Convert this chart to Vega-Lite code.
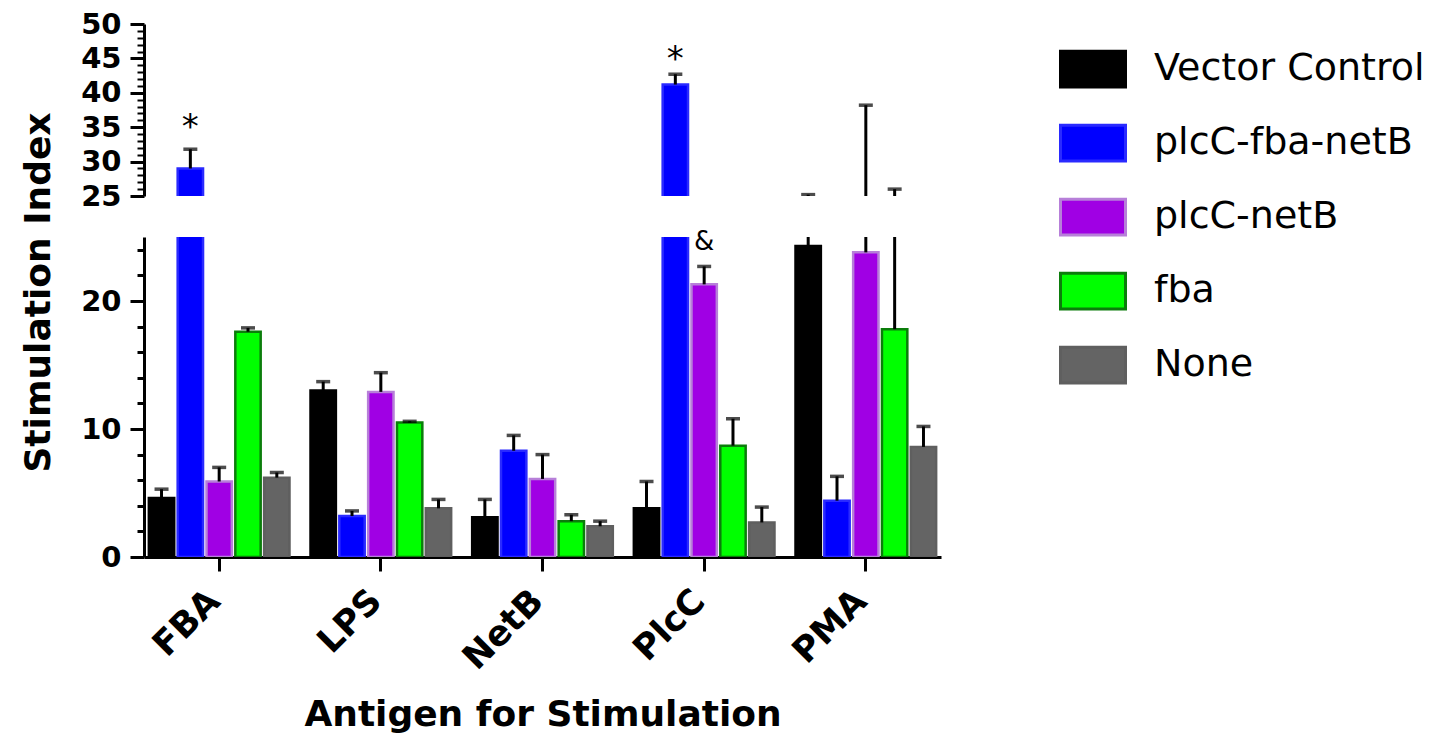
{
  "$schema": "https://vega.github.io/schema/vega-lite/v6.json",
  "padding": {"left": 20, "top": 10, "right": 5, "bottom": 5},
  "bounds": "flush",
  "spacing": 41,
  "datasets": {
    "bars": [
      {"antigen": "FBA", "group": "Vector Control", "value": 4.6, "upper": 5.3},
      {"antigen": "FBA", "group": "plcC-fba-netB", "value": 29.0, "upper": 31.8},
      {"antigen": "FBA", "group": "plcC-netB", "value": 5.9, "upper": 7.0},
      {"antigen": "FBA", "group": "fba", "value": 17.6, "upper": 17.9},
      {"antigen": "FBA", "group": "None", "value": 6.2, "upper": 6.6},
      {"antigen": "LPS", "group": "Vector Control", "value": 13.0, "upper": 13.7},
      {"antigen": "LPS", "group": "plcC-fba-netB", "value": 3.2, "upper": 3.6},
      {"antigen": "LPS", "group": "plcC-netB", "value": 12.9, "upper": 14.4},
      {"antigen": "LPS", "group": "fba", "value": 10.5, "upper": 10.6},
      {"antigen": "LPS", "group": "None", "value": 3.8, "upper": 4.5},
      {"antigen": "NetB", "group": "Vector Control", "value": 3.1, "upper": 4.5},
      {"antigen": "NetB", "group": "plcC-fba-netB", "value": 8.3, "upper": 9.5},
      {"antigen": "NetB", "group": "plcC-netB", "value": 6.1, "upper": 8.0},
      {"antigen": "NetB", "group": "fba", "value": 2.8, "upper": 3.3},
      {"antigen": "NetB", "group": "None", "value": 2.4, "upper": 2.8},
      {"antigen": "PlcC", "group": "Vector Control", "value": 3.8, "upper": 5.9},
      {"antigen": "PlcC", "group": "plcC-fba-netB", "value": 41.2, "upper": 42.7},
      {"antigen": "PlcC", "group": "plcC-netB", "value": 21.3, "upper": 22.7},
      {"antigen": "PlcC", "group": "fba", "value": 8.7, "upper": 10.8},
      {"antigen": "PlcC", "group": "None", "value": 2.7, "upper": 3.9},
      {"antigen": "PMA", "group": "Vector Control", "value": 24.3, "upper": 25.2},
      {"antigen": "PMA", "group": "plcC-fba-netB", "value": 4.4, "upper": 6.3},
      {"antigen": "PMA", "group": "plcC-netB", "value": 23.8, "upper": 38.2},
      {"antigen": "PMA", "group": "fba", "value": 17.8, "upper": 26.0},
      {"antigen": "PMA", "group": "None", "value": 8.6, "upper": 10.2}
    ],
    "notes": [
      {"antigen": "FBA", "group": "plcC-fba-netB", "y": 36.0, "label": "*", "panel": "upper"},
      {"antigen": "PlcC", "group": "plcC-fba-netB", "y": 46.0, "label": "*", "panel": "upper"},
      {"antigen": "PlcC", "group": "plcC-netB", "y": 24.6, "label": "&", "panel": "lower"}
    ]
  },
  "resolve": {"legend": {"fill": "independent", "stroke": "independent"}},
  "vconcat": [
    {
      "width": 797,
      "height": 172,
      "data": {"name": "bars"},
      "resolve": {"axis": {"y": "independent"}},
      "encoding": {
        "x": {"field": "antigen", "type": "nominal", "sort": ["FBA", "LPS", "NetB", "PlcC", "PMA"], "scale": {"paddingInner": 0.13, "paddingOuter": 0.03}, "axis": null},
        "xOffset": {"field": "group", "type": "nominal", "sort": ["Vector Control", "plcC-fba-netB", "plcC-netB", "fba", "None"], "scale": {"paddingInner": 0.12, "paddingOuter": 0}}
      },
      "layer": [
        {
          "mark": {"type": "bar", "clip": true, "strokeWidth": 2.5},
          "encoding": {
            "y": {"field": "value", "type": "quantitative", "scale": {"domain": [25, 50], "nice": false, "zero": false},
              "axis": {"title": null, "values": [25, 30, 35, 40, 45, 50], "labelFontSize": 29, "labelPadding": 9, "ticks": true, "tickColor": "#000000", "tickOpacity": 1, "tickSize": 14, "tickWidth": 3}},
            "fill": {"field": "group", "type": "nominal", "scale": {"domain": ["Vector Control", "plcC-fba-netB", "plcC-netB", "fba", "None"], "range": ["#000000", "#0000ff", "#a000e4", "#00ff00", "#646464"]}, "legend": null},
            "stroke": {"field": "group", "type": "nominal", "scale": {"domain": ["Vector Control", "plcC-fba-netB", "plcC-netB", "fba", "None"], "range": ["#000000", "#2a2aff", "#b77fd9", "#0b7d0b", "#5f5f5f"]}, "legend": null}
          }
        },
        {
          "mark": {"type": "rule", "clip": true, "strokeWidth": 3, "color": "black"},
          "encoding": {
            "y": {"field": "value", "type": "quantitative",
              "axis": {"orient": "left", "title": null, "labels": false, "domain": false, "ticks": true, "tickColor": "#000000", "tickOpacity": 1, "tickSize": 7, "tickWidth": 2,
                "values": [26, 27, 28, 29, 31, 32, 33, 34, 36, 37, 38, 39, 41, 42, 43, 44, 46, 47, 48, 49]}},
            "y2": {"field": "upper"}
          }
        },
        {
          "mark": {"type": "tick", "clip": true, "orient": "horizontal", "size": 14, "thickness": 3.5, "color": "black"},
          "encoding": {
            "y": {"field": "upper", "type": "quantitative", "axis": null}
          }
        },
        {
          "data": {"name": "notes"},
          "transform": [{"filter": "datum.panel === 'upper'"}],
          "mark": {"type": "text", "fontSize": 34, "font": "DejaVu Sans", "color": "black", "baseline": "middle", "align": "center", "dy": 8},
          "encoding": {
            "y": {"field": "y", "type": "quantitative", "axis": null},
            "text": {"field": "label"}
          }
        }
      ]
    },
    {
      "width": 797,
      "height": 320,
      "data": {"name": "bars"},
      "resolve": {"axis": {"y": "independent"}},
      "encoding": {
        "x": {"field": "antigen", "type": "nominal", "sort": ["FBA", "LPS", "NetB", "PlcC", "PMA"], "scale": {"paddingInner": 0.13, "paddingOuter": 0.03},
          "axis": {"title": "Antigen for Stimulation", "titleFontSize": 36, "titlePadding": 22, "labelAngle": -45, "labelAlign": "right", "labelBaseline": "middle", "labelFontSize": 35, "labelOffset": -5, "ticks": true, "tickColor": "#000000", "tickOpacity": 1, "tickSize": 14, "tickWidth": 3, "labelPadding": 24}},
        "xOffset": {"field": "group", "type": "nominal", "sort": ["Vector Control", "plcC-fba-netB", "plcC-netB", "fba", "None"], "scale": {"paddingInner": 0.12, "paddingOuter": 0}}
      },
      "layer": [
        {
          "mark": {"type": "bar", "clip": true, "strokeWidth": 2.5},
          "encoding": {
            "y": {"field": "value", "type": "quantitative", "scale": {"domain": [0, 25], "nice": false},
              "axis": {"title": "Stimulation  Index", "titleFontSize": 36, "titleY": 55, "titlePadding": 23, "values": [0, 10, 20], "labelFontSize": 29, "labelPadding": 9, "ticks": true, "tickColor": "#000000", "tickOpacity": 1, "tickSize": 14, "tickWidth": 3}},
            "fill": {"field": "group", "type": "nominal", "scale": {"domain": ["Vector Control", "plcC-fba-netB", "plcC-netB", "fba", "None"], "range": ["#000000", "#0000ff", "#a000e4", "#00ff00", "#646464"]},
              "legend": {"title": null, "orient": "none", "legendX": 915, "legendY": -202, "symbolType": "M-1,-0.55H1V0.55H-1Z", "symbolSize": 4225, "symbolStrokeWidth": 3, "labelFont": "DejaVu Sans", "labelFontSize": 38, "labelColor": "black", "labelOffset": 27, "rowPadding": 16, "labelLimit": 400}},
            "stroke": {"field": "group", "type": "nominal", "scale": {"domain": ["Vector Control", "plcC-fba-netB", "plcC-netB", "fba", "None"], "range": ["#000000", "#2a2aff", "#b77fd9", "#0b7d0b", "#5f5f5f"]},
              "legend": {"title": null, "orient": "none", "legendX": 915, "legendY": -202, "symbolType": "M-1,-0.55H1V0.55H-1Z", "symbolSize": 4225, "symbolStrokeWidth": 3, "labelFont": "DejaVu Sans", "labelFontSize": 38, "labelColor": "black", "labelOffset": 27, "rowPadding": 16, "labelLimit": 400}}
          }
        },
        {
          "mark": {"type": "rule", "clip": true, "strokeWidth": 3, "color": "black"},
          "encoding": {
            "y": {"field": "value", "type": "quantitative",
              "axis": {"orient": "left", "title": null, "labels": false, "domain": false, "ticks": true, "tickColor": "#000000", "tickOpacity": 1, "tickSize": 7, "tickWidth": 3,
                "values": [2, 4, 6, 8, 12, 14, 16, 18, 22, 24]}},
            "y2": {"field": "upper"}
          }
        },
        {
          "mark": {"type": "tick", "clip": true, "orient": "horizontal", "size": 14, "thickness": 3.5, "color": "black"},
          "encoding": {
            "y": {"field": "upper", "type": "quantitative", "axis": null}
          }
        },
        {
          "data": {"name": "notes"},
          "transform": [{"filter": "datum.panel === 'lower'"}],
          "mark": {"type": "text", "fontSize": 26, "font": "DejaVu Sans", "color": "black", "baseline": "middle", "align": "center"},
          "encoding": {
            "y": {"field": "y", "type": "quantitative", "axis": null},
            "text": {"field": "label"}
          }
        }
      ]
    }
  ],
  "config": {
    "view": {"stroke": null},
    "font": "DejaVu Sans",
    "axis": {"domainColor": "black", "domainWidth": 3, "tickColor": "black", "tickWidth": 3, "labelColor": "black", "titleColor": "black", "labelFont": "DejaVu Sans", "labelFontWeight": "bold", "titleFont": "DejaVu Sans", "titleFontWeight": "bold", "grid": false}
  }
}
